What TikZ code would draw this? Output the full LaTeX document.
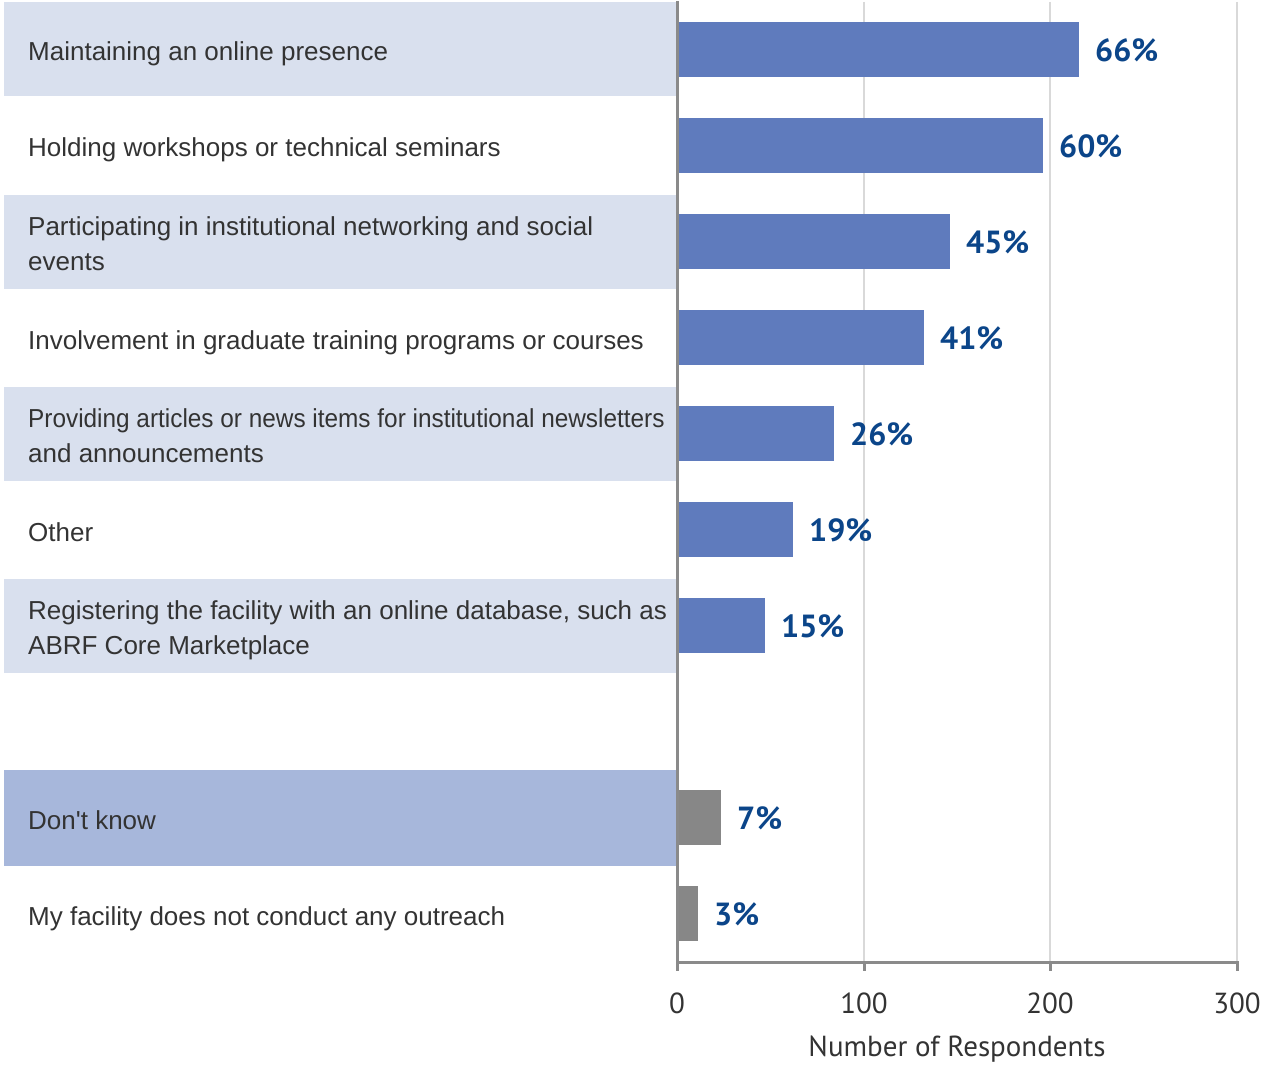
\documentclass[tikz,border=0pt]{standalone}
\usepackage{fontspec}
\usepackage{graphicx}
\setmainfont{Liberation Sans}
\newfontfamily\ptsans{PT Sans}
\definecolor{bandlight}{HTML}{D9E0EE}
\definecolor{banddark}{HTML}{A7B7DB}
\definecolor{barblue}{HTML}{5F7BBD}
\definecolor{bargray}{HTML}{878787}
\definecolor{gridcol}{HTML}{D9D9D9}
\definecolor{axiscol}{HTML}{8A8A8A}
\definecolor{pctblue}{HTML}{0B4589}
\definecolor{txtcol}{HTML}{333333}
\tikzset{
  catlabel/.style={anchor=base west, inner sep=0pt, text=txtcol, align=left, font=\fontsize{26}{35}\selectfont},
  pctlabel/.style={anchor=west, inner sep=0pt, text=pctblue, font=\ptsans\bfseries\fontsize{32}{32}\selectfont},
  ticklabel/.style={anchor=center, inner sep=0pt, text=txtcol, font=\ptsans\fontsize{29}{29}\selectfont},
  gridline/.style={draw=gridcol, line width=2pt},
  axisline/.style={draw=axiscol, line width=3pt},
}
\begin{document}
\begin{tikzpicture}[x=1pt,y=-1pt]
\useasboundingbox (0,0) rectangle (1262,1065);
% background bands
\foreach \c in {49.5,241.5,433.5,625.5}
  \fill[bandlight] (4,\c-47) rectangle (676,\c+47);
\fill[banddark] (4,770) rectangle (676,866);
% grid lines
\foreach \x in {864,1050,1237}
  \draw[gridline] (\x,2) -- (\x,962);
% bars and percent labels
\foreach \c/\e/\p/\n in {49.5/1079/66\%/b1, 145.5/1043/60\%/b2, 241.5/950/45\%/b3, 337.5/924/41\%/b4, 433.5/834/26\%/b5, 529.5/793/19\%/b6, 625.5/765/15\%/b7}{
  \fill[barblue] (678,\c-27.5) rectangle (\e,\c+27.5);
  \node[pctlabel] (\n) at (\e+16,\c+1) {\p};
}
\foreach \c/\e/\p/\n in {817.5/721/7\%/b9, 913.5/698/3\%/b10}{
  \fill[bargray] (678,\c-27.5) rectangle (\e,\c+27.5);
  \node[pctlabel] (\n) at (\e+16,\c+1) {\p};
}
% category labels (baseline of last line)
\node[catlabel] (c1) at (28,61) {Maintaining an online presence};
\node[catlabel] (c2) at (28,157) {Holding workshops or technical seminars};
\node[catlabel] (c3) at (28,270) {Participating in institutional networking and social\\events};
\node[catlabel] (c4) at (28,349) {Involvement in graduate training programs or courses};
\node[catlabel] (c5) at (28,462) {\scalebox{0.937}[1]{Providing articles or news items for institutional newsletters}\\and announcements};
\node[catlabel] (c6) at (28,541) {Other};
\node[catlabel] (c7) at (28,654) {Registering the facility with an online database, such as\\ABRF Core Marketplace};
\node[catlabel] (c9) at (28,829) {\addfontfeature{Ligatures=TeXOff}Don't know};
\node[catlabel] (c10) at (28,925) {My facility does not conduct any outreach};
% axes
\draw[axisline] (677,1) -- (677,962);
\draw[axisline] (677,962) -- (1238.5,962);
\foreach \x in {677,864,1050,1237}
  \draw[axisline] (\x,962) -- (\x,971);
% tick labels
\node[ticklabel] (t0) at (677,1003) {0};
\node[ticklabel] (t1) at (864,1003) {100};
\node[ticklabel] (t2) at (1050,1003) {200};
\node[ticklabel] (t3) at (1237,1003) {300};
\node[ticklabel] (xt) at (957,1049) {Number of Respondents};
\end{tikzpicture}
\end{document}
